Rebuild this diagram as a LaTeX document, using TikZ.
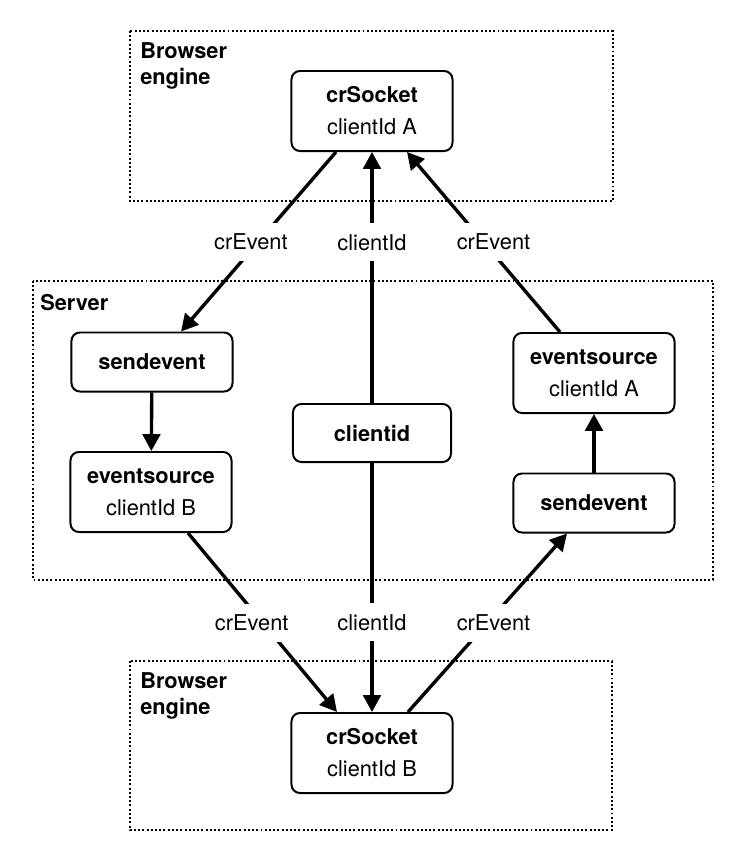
\documentclass[tikz,border=0pt]{standalone}
\usepackage{fontspec}
\setmainfont{TeX Gyre Heros}
\usetikzlibrary{arrows.meta}

\begin{document}
\begin{tikzpicture}[x=0.025cm, y=-0.025cm, >={Triangle[length=12pt, width=12.5pt]},
	every node/.style={font=\fontsize{15.5}{22.7}\selectfont},
	box/.style={draw, line width=1.4pt, rounded corners=6pt, minimum width=4.025cm, align=center, inner sep=0pt},
	zone/.style={draw, line width=1.4pt, dash pattern=on 1.4pt off 1.6pt},
	zonetitle/.style={anchor=west, align=left, inner sep=0pt, font=\bfseries\fontsize{15.5}{18.5}\selectfont},
	conn/.style={->, line width=2.4pt},
	lbl/.style={fill=white, inner xsep=3pt, minimum height=0.95cm}]
	\useasboundingbox (0,0) rectangle (744,864);
	
	% zones
	\draw[zone] (130,31) rectangle (613,201);
	\draw[zone] (33,281) rectangle (713,580);
	\draw[zone] (130,661) rectangle (612,830);
	\node[zonetitle] (tA) at (140,66) {Browser\\engine};
	\node[zonetitle] (tS) at (40,303) {Server};
	\node[zonetitle] (tB) at (140,696) {Browser\\engine};
	
	% browser A
	\node[box, minimum height=2cm] (crA) at (372,111) {\textbf{crSocket}\\clientId A};
	
	% server
	\node[box, minimum height=1.475cm] (sendL) at (152,362) {\textbf{sendevent}};
	\node[box, minimum height=2cm] (esB) at (151,492) {\textbf{eventsource}\\clientId B};
	\node[box, minimum width=3.95cm, minimum height=1.45cm] (cid) at (372,433) {\textbf{clientid}};
	\node[box, minimum height=2cm] (esA) at (594,373) {\textbf{eventsource}\\clientId A};
	\node[box, minimum height=1.475cm] (sendR) at (594,503) {\textbf{sendevent}};
	
	% browser B
	\node[box, minimum height=2cm] (crB) at (372,753) {\textbf{crSocket}\\clientId B};
	
	% connectors
	\draw[conn] ([xshift=-0.9cm]crA.south) -- node[lbl, xshift=-0.19cm] (e1) {crEvent} ([xshift=0.725cm]sendL.north);
	\draw[conn] (cid.north) -- node[lbl, pos=0.64] (e2) {clientId} (crA.south);
	\draw[conn] ([xshift=-0.85cm]esA.north) -- node[lbl, xshift=0.25cm] (e3) {crEvent} ([xshift=0.875cm]crA.south);
	\draw[conn] (sendL) -- (esB);
	\draw[conn] (sendR) -- (esA);
	\draw[conn] ([xshift=0.925cm]esB.south) -- node[lbl, xshift=-0.27cm] (e4) {crEvent} ([xshift=-0.875cm]crB.north);
	\draw[conn] (cid.south) -- node[lbl, pos=0.64] (e5) {clientId} (crB.north);
	\draw[conn] ([xshift=0.9cm]crB.north) -- node[lbl, xshift=0.15cm] (e6) {crEvent} ([xshift=-0.675cm]sendR.south);
\end{tikzpicture}
\end{document}
